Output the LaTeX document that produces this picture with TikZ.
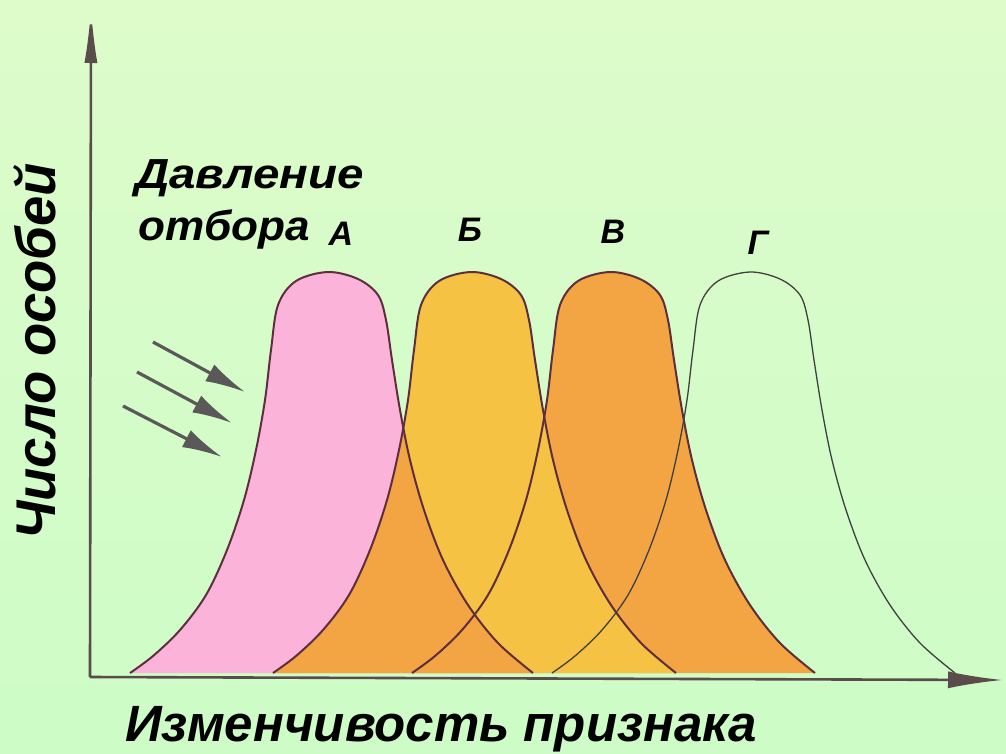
\documentclass[tikz,border=0pt]{standalone}
\usepackage{fontspec}
\setmainfont{Liberation Sans}
\usetikzlibrary{arrows.meta}
\definecolor{bgtop}{HTML}{DDFCCA}
\definecolor{bgbot}{HTML}{CDFCC7}
\definecolor{pinkC}{HTML}{FBB3D9}
\definecolor{yellowC}{HTML}{F5C244}
\definecolor{orangeC}{HTML}{F2A542}
\definecolor{outC}{HTML}{5E2E3E}
\definecolor{axisC}{HTML}{5A4C4A}
\definecolor{arrC}{HTML}{5A5858}
\newcommand\bellpath{plot[smooth,tension=0.55] coordinates {(-198,673) (-175,656) (-148,630) (-122,595) (-101,550) (-84,500) (-72,450) (-63,400) (-57,350) (-50,305) (-32,281) (0,272) (30,279) (50,295) (58,320) (64,360) (72,410) (82,460) (96,510) (115,560) (140,605) (170,643) (205,673)}}
\tikzset{
  outl/.style={draw=outC, line width=2pt},
  outlG/.style={draw=black!75, line width=1.3pt},
  axisline/.style={draw=axisC, line width=2.6pt},
  selarrow/.style={draw=arrC, line width=3.2pt, -{Latex[length=40pt,width=19pt]}},
  lbl/.style={inner sep=0pt, font=\fontsize{42}{42}\selectfont\bfseries\itshape},
  letter/.style={inner sep=0pt, font=\fontsize{34}{34}\selectfont\bfseries\itshape},
}
\begin{document}
\begin{tikzpicture}[x=1pt,y=-1pt]
\useasboundingbox (0,0) rectangle (1006,753);
\shade[top color=bgtop,bottom color=bgbot] (0,0) rectangle (1006,753);
% fills
\fill[orangeC, shift={(610,0)}] \bellpath -- cycle;
\fill[yellowC, shift={(471,0)}] \bellpath -- cycle;
\fill[pinkC, shift={(328,0)}] \bellpath -- cycle;
\begin{scope}
  \clip[shift={(328,0)}] \bellpath -- cycle;
  \fill[orangeC, shift={(471,0)}] \bellpath -- cycle;
\end{scope}
% outlines
\draw[outl, shift={(328,0)}] \bellpath;
\draw[outl, shift={(471,0)}] \bellpath;
\draw[outl, shift={(610,0)}] \bellpath;
\draw[outlG, shift={(750,0)}] \bellpath;
% axes
\coordinate (O) at (90,677);
\coordinate (Ytop) at (91,8);
\coordinate (Xend) at (1003,680);
\draw[axisline, -{Latex[length=55pt,width=13pt]}] (O) -- (Ytop);
\draw[axisline, -{Latex[length=55pt,width=17pt]}] (O) -- (Xend);
% selection pressure arrows
\coordinate (s1a) at (153,342); \coordinate (s1b) at (245,392);
\coordinate (s2a) at (137,372); \coordinate (s2b) at (232,423);
\coordinate (s3a) at (123,406); \coordinate (s3b) at (222,457);
\draw[selarrow] (s1a) -- (s1b);
\draw[selarrow] (s2a) -- (s2b);
\draw[selarrow] (s3a) -- (s3b);
% texts
\node[lbl, anchor=base west] (davl) at (135,188) {\scalebox{1.13}[1]{Давление}};
\node[lbl, anchor=base west] (otb) at (138,240) {\scalebox{1.05}[1]{отбора}};
\node[letter] (lA) at (341,234) {А};
\node[letter] (lB) at (470,230) {Б};
\node[letter] (lV) at (613,232) {В};
\node[letter] (lG) at (758,243) {Г};
\node[inner sep=0pt, anchor=base west, font=\fontsize{51}{51}\selectfont\bfseries\itshape] (xlab) at (125,741) {Изменчивость признака};
\node[inner sep=0pt, anchor=base west, rotate=90, font=\fontsize{56}{56}\selectfont\bfseries\itshape] (ylab) at (55,540) {\scalebox{0.97}[1]{Число особей}};
\end{tikzpicture}
\end{document}
